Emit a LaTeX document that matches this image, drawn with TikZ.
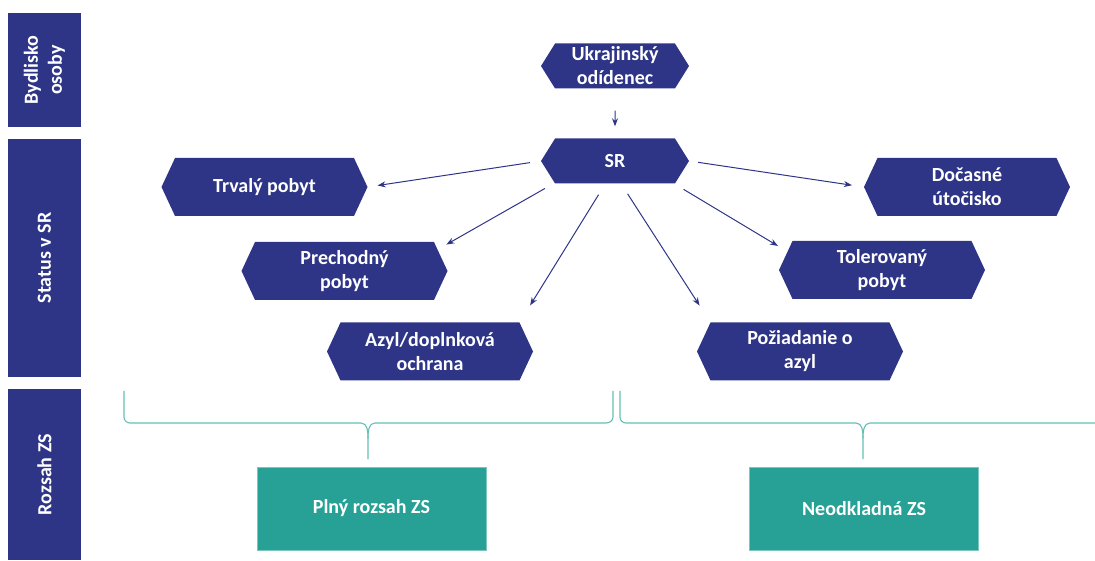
\documentclass[tikz,border=0pt]{standalone}
\usepackage{fontspec}
\setmainfont{Carlito}
\usetikzlibrary{shapes.symbols, arrows.meta}
\definecolor{navy}{RGB}{46,53,135}
\definecolor{zsteal}{RGB}{39,160,149}
\definecolor{bracegreen}{RGB}{100,190,180}

\begin{document}
\begin{tikzpicture}[x=1pt, y=1pt, >={Stealth[length=8pt, width=6pt]},
    every node/.style={font=\bfseries\fontsize{20}{24}\selectfont, text=white, align=center},
    bar/.style={fill=navy, rotate=90, minimum height=73pt, inner sep=0pt},
    hexa/.style={signal, signal to=west and east, signal pointer angle=130,
        fill=navy, minimum width=206pt, minimum height=58pt, inner sep=0pt},
    smallhexa/.style={hexa, minimum width=148pt, minimum height=45pt, signal pointer angle=116},
    zsbox/.style={fill=zsteal, draw=zsteal!60!white, line width=0.6pt,
        minimum width=229pt, minimum height=83pt},
    arrow/.style={->, navy, line width=1pt},
    brace/.style={bracegreen, line width=1.1pt}]
        \useasboundingbox (0,0) rectangle (1095,560);

        \node[bar, minimum width=114pt] (bydlisko) at (44.5,490) {Bydlisko\\osoby};
        \node[bar, minimum width=238pt] (status) at (44.5,302) {Status v SR};
        \node[bar, minimum width=171pt] (rozsah) at (44.5,85.5) {Rozsah ZS};

        \node[smallhexa] (ukr) at (615,494) {Ukrajinský\\odídenec};
        \node[smallhexa] (sr) at (615,399) {SR};

        \node[hexa] (trvaly) at (264.5,373) {Trvalý pobyt};
        \node[hexa] (prechodny) at (344.5,289) {Prechodný\\pobyt};
        \node[hexa] (azyl) at (430,208.5) {Azyl/doplnková\\ochrana};
        \node[hexa] (docasne) at (967,373) {Dočasné\\útočisko};
        \node[hexa] (tolerovany) at (882,290) {Tolerovaný\\pobyt};
        \node[hexa] (poziadanie) at (800,208.5) {Požiadanie o\\azyl};

        \node[zsbox] (plny) at (371.5,51.5) {Plný rozsah ZS};
        \node[zsbox] (neodkladna) at (864,51.5) {Neodkladná ZS};

        \draw[arrow, shorten <=22pt, shorten >=12pt] (ukr) -- (sr);
        \draw[arrow, shorten <=11pt, shorten >=10pt] (sr.west) -- (trvaly.east);
        \draw[arrow, shorten <=11pt, shorten >=10pt] (sr.200) -- (prechodny.13);
        \draw[arrow, shorten <=13pt, shorten >=20pt] (sr.247) -- (azyl.18);
        \draw[arrow, shorten <=9pt, shorten >=12pt] (sr.east) -- (docasne.west);
        \draw[arrow, shorten <=11pt, shorten >=11pt] (sr.339) -- (tolerovany.169);
        \draw[arrow, shorten <=12pt, shorten >=20pt] (sr.285) -- (poziadanie.162);

        \draw[brace] (124,169) -- (124,143) to[out=-90, in=180] (130,137) -- (361,137)
            to[out=0, in=90] (368,122) -- (368,101);
        \draw[brace] (368,122) to[out=90, in=180] (375,137) -- (606,137)
            to[out=0, in=-90] (613,143) -- (613,169);
        \draw[brace] (620,169) -- (620,143) to[out=-90, in=180] (626,137) -- (856,137)
            to[out=0, in=90] (863,122) -- (863,101);
        \draw[brace] (863,122) to[out=90, in=180] (870,137) -- (1095,137);
    \end{tikzpicture}
\end{document}
